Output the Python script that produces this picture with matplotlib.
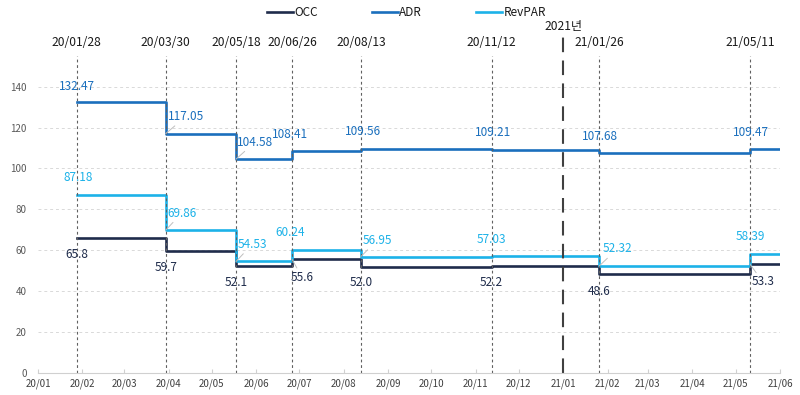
import matplotlib
matplotlib.use("Agg")
import matplotlib.pyplot as plt
import matplotlib.dates as mdates
import numpy as np
import pandas as pd

plt.rcParams['font.family'] = ['Noto Sans CJK KR', 'DejaVu Sans']

# data
change_dates = ["2020-01-28", "2020-03-30", "2020-05-18", "2020-06-26",
                "2020-08-13", "2020-11-12", "2021-01-26", "2021-05-11"]
end_date = "2021-06-01"
top_labels = ["20/01/28", "20/03/30", "20/05/18", "20/06/26",
              "20/08/13", "20/11/12", "21/01/26", "21/05/11"]
occ = [65.8, 59.7, 52.1, 55.6, 52.0, 52.2, 48.6, 53.3]
adr = [132.47, 117.05, 104.58, 108.41, 109.56, 109.21, 107.68, 109.47]
revpar = [87.18, 69.86, 54.53, 60.24, 56.95, 57.03, 52.32, 58.39]
occ_text = ["65.8", "59.7", "52.1", "55.6", "52.0", "52.2", "48.6", "53.3"]
year_mark = "2021-01-01"
year_text = "2021년"

# label offsets in pixels (dx, dy)
adr_off = [(0, 16), (20, 17), (19, 17), (-2, 17), (2, 17), (2, 17), (1, 16), (1, 17)]
rev_off = [(1, 17), (16, 17), (16, 17), (-2, 17), (16, 16), (0, 17), (18, 17), (0, 17)]
occ_off = [(0, -16), (0, -17), (0, -16), (10, -18), (0, -16), (0, -16), (0, -18), (13, -18)]

c_occ = "#1f2c4b"
c_adr = "#1a6fbd"
c_rev = "#1cb2e8"

x = pd.to_datetime(change_dates)
x_step = list(x) + [pd.Timestamp(end_date)]

fig = plt.figure(figsize=(8, 3.95), dpi=100)
ax = fig.add_axes([38 / 800, 1 - 373 / 395, 742 / 800, 317 / 395])

for vals, col, name in [(occ, c_occ, "OCC"), (adr, c_adr, "ADR"), (revpar, c_rev, "RevPAR")]:
    ax.plot(x_step, list(vals) + [vals[-1]], drawstyle="steps-post", color=col, lw=1.9, label=name)

ax.set_xlim(pd.Timestamp("2020-01-01"), pd.Timestamp(end_date))
ax.set_ylim(0, 155)
ax.set_yticks(np.arange(0, 141, 20))
ax.yaxis.grid(True, color="#d9d9d9", ls=(0, (3, 3)), lw=0.7)
ax.set_axisbelow(True)
for s in ["top", "right", "left"]:
    ax.spines[s].set_visible(False)
ax.spines["bottom"].set_color("#d0d0d0")
ax.xaxis.set_major_locator(mdates.MonthLocator())
ax.xaxis.set_major_formatter(mdates.DateFormatter("%y/%m"))
ax.tick_params(axis="x", direction="in", length=3, color="#d0d0d0", labelsize=7, labelcolor="#404040", pad=4)
ax.tick_params(axis="y", length=0, labelsize=7, labelcolor="#595959", pad=8)

# event lines and labels
for d, lab in zip(x, top_labels):
    ax.plot([d, d], [0, 155], color="#606060", lw=0.8, ls=(0, (2.5, 2.5)))
    ax.text(d, 161.5, lab, ha="center", va="center", fontsize=8.7, color="#1a1a1a", clip_on=False)

ym = pd.Timestamp(year_mark)
ax.plot([ym, ym], [0, 164.5], color="#404040", lw=1.5, ls=(0, (7, 4)), clip_on=False)
ax.text(ym, 169.5, year_text, ha="center", va="center", fontsize=8.7, color="#1a1a1a", clip_on=False)


def put_labels(vals, texts, offs, col):
    for d, v, t, (dx, dy) in zip(x, vals, texts, offs):
        arrow = None
        if abs(dx) > 5:
            arrow = dict(arrowstyle="-", color="#bfbfbf", lw=0.7, shrinkA=0, shrinkB=0)
        ax.annotate(t, xy=(d, v), xytext=(dx, dy), textcoords="offset pixels",
                    ha="center", va="center", fontsize=8.5, color=col, arrowprops=arrow)


put_labels(adr, ["%.2f" % v for v in adr], adr_off, c_adr)
put_labels(revpar, ["%.2f" % v for v in revpar], rev_off, c_rev)
put_labels(occ, occ_text, occ_off, c_occ)

fig.legend(loc="upper center", bbox_to_anchor=(0.508, 1.012), ncol=3, frameon=False,
           fontsize=8.5, handlelength=2.2, handletextpad=0.1, columnspacing=4.6,
           labelcolor="#1a1a1a")

fig.savefig("out.png", dpi=100)
